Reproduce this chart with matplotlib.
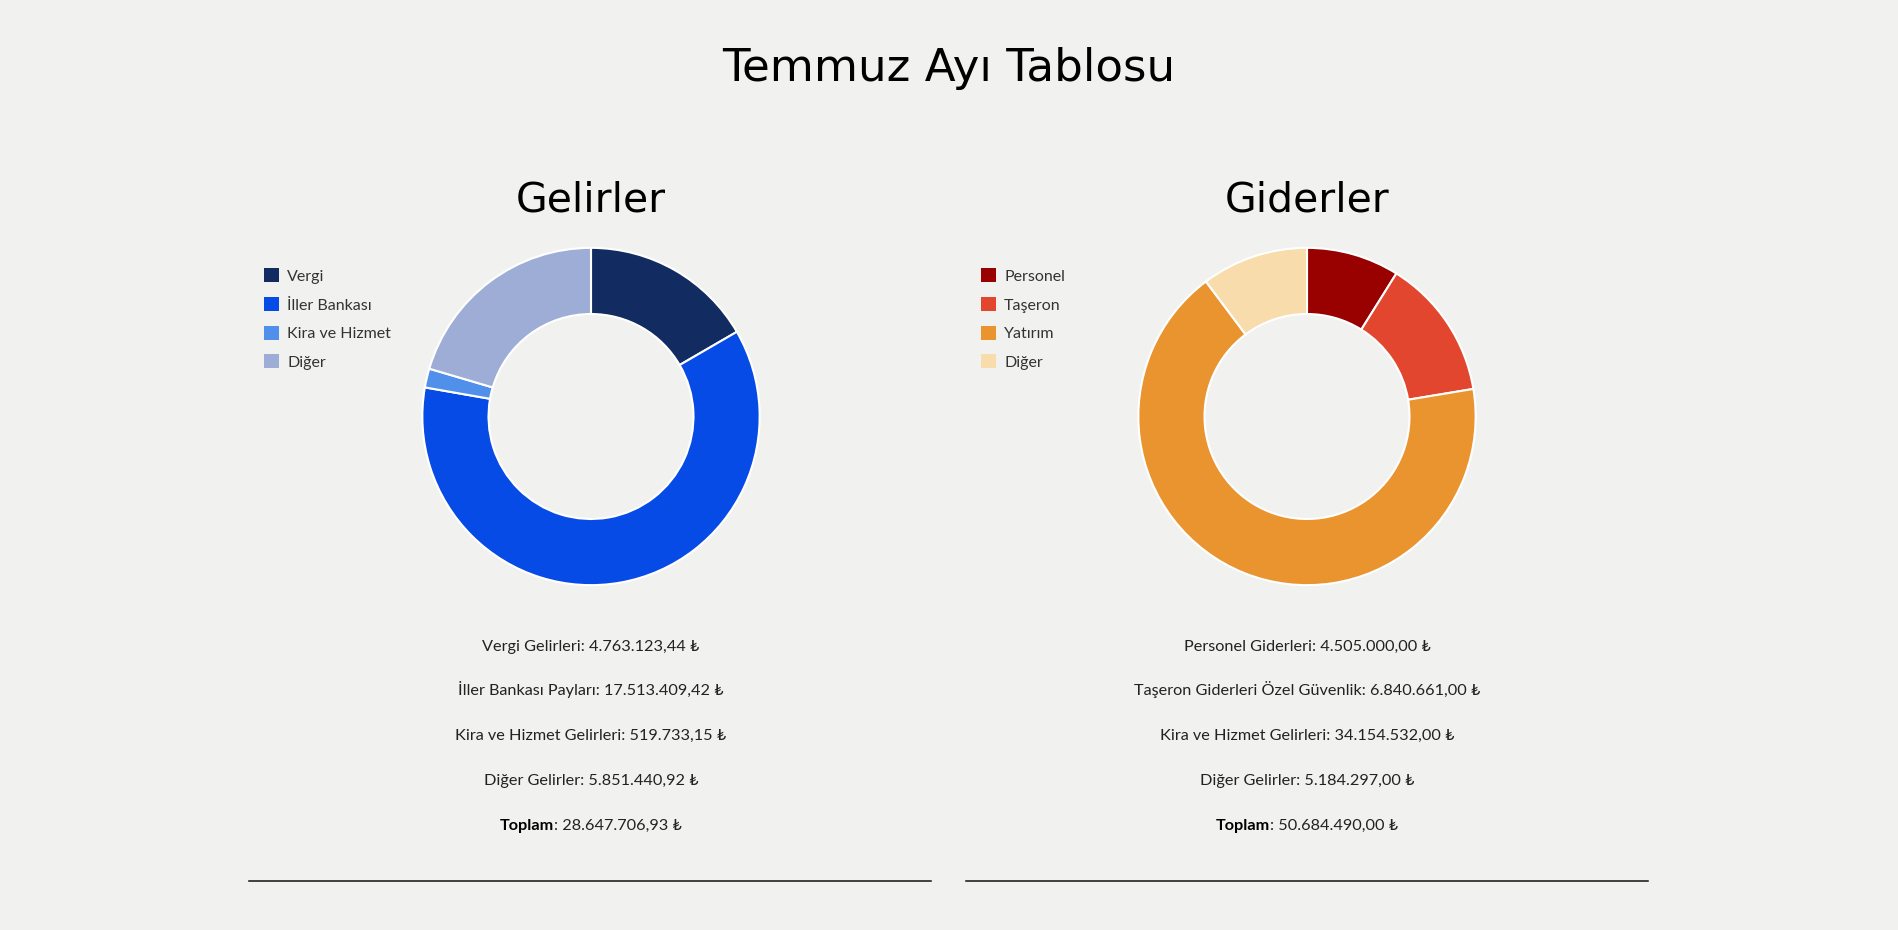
import matplotlib
matplotlib.use("Agg")
import matplotlib.pyplot as plt
from matplotlib.patches import Patch
from matplotlib.lines import Line2D

plt.rcParams['font.family'] = ['Lato', 'DejaVu Sans']

W, H = 1899, 930
BG = '#f1f1ef'

main_title = "Temmuz Ayı Tablosu"

gelir_title = "Gelirler"
gelir_labels = ["Vergi", "İller Bankası", "Kira ve Hizmet", "Diğer"]
gelir_values = [4763123.44, 17513409.42, 519733.15, 5851440.92]
gelir_colors = ["#122b61", "#074be6", "#5090eb", "#9dadd6"]
gelir_lines = ["Vergi Gelirleri: 4.763.123,44 ₺",
               "İller Bankası Payları: 17.513.409,42 ₺",
               "Kira ve Hizmet Gelirleri: 519.733,15 ₺",
               "Diğer Gelirler: 5.851.440,92 ₺"]
gelir_total = "28.647.706,93 ₺"

gider_title = "Giderler"
gider_labels = ["Personel", "Taşeron", "Yatırım", "Diğer"]
gider_values = [4505000.00, 6840661.00, 34154532.00, 5184297.00]
gider_colors = ["#990000", "#e2462e", "#ea9430", "#f8dcab"]
gider_lines = ["Personel Giderleri: 4.505.000,00 ₺",
               "Taşeron Giderleri Özel Güvenlik: 6.840.661,00 ₺",
               "Kira ve Hizmet Gelirleri: 34.154.532,00 ₺",
               "Diğer Gelirler: 5.184.297,00 ₺"]
gider_total = "50.684.490,00 ₺"

fig = plt.figure(figsize=(W / 100, H / 100), dpi=100, facecolor=BG)


def fx(px):
    return px / W


def fy(py):
    return 1 - py / H


fig.text(fx(949), fy(81.5), main_title, ha='center', va='baseline',
         fontsize=32.5, color='black', family=['DejaVu Sans'])

R = 169.5
r_in = 103
BODY = 11.7


def panel(cx, cy, title, labels, values, colors, lines, total, leg_x, line_x0, line_x1):
    ax = fig.add_axes([fx(cx - R), fy(cy + R), R * 2 / W, R * 2 / H])
    ax.set_facecolor(BG)
    ax.pie(values, colors=colors, startangle=90, counterclock=False, radius=1,
           wedgeprops=dict(width=1 - r_in / R, edgecolor='white', linewidth=1.5))
    ax.set_xlim(-1.005, 1.005)
    ax.set_ylim(-1.005, 1.005)
    ax.set_aspect('auto')
    ax.axis('off')

    fig.text(fx(cx), fy(211.5), title, ha='center', va='baseline',
             fontsize=29.5, color='black', family=['DejaVu Sans'])

    handles = [Patch(facecolor=c, edgecolor='none') for c in colors]
    fig.legend(handles, labels, loc='upper left',
               bbox_to_anchor=(fx(leg_x), fy(268.5)), frameon=False,
               fontsize=11.5, labelcolor='#333333', handlelength=0.95,
               handleheight=0.95, handletextpad=0.5, labelspacing=0.83,
               borderaxespad=0, borderpad=0)

    ys = [650.7, 695.5, 740.3, 785]
    for y, t in zip(ys, lines):
        fig.text(fx(cx), fy(y), t, ha='center', va='baseline',
                 fontsize=BODY, color='#222222')
    # total line: bold label + regular value
    ytot = 829.5
    t1 = fig.text(0, 0, "Toplam", ha='left', va='baseline',
                  fontsize=BODY, fontweight='bold', color='black')
    t2 = fig.text(0, 0, ": " + total, ha='left', va='baseline',
                  fontsize=BODY, color='#222222')
    rend = fig.canvas.get_renderer()
    w1 = t1.get_window_extent(renderer=rend).width
    w2 = t2.get_window_extent(renderer=rend).width
    left = cx - (w1 + w2) / 2
    t1.set_position((fx(left), fy(ytot)))
    t2.set_position((fx(left + w1), fy(ytot)))

    fig.add_artist(Line2D([fx(line_x0), fx(line_x1)], [fy(881), fy(881)],
                          color='#111111', linewidth=1.1))


panel(591, 416.5, gelir_title, gelir_labels, gelir_values, gelir_colors,
      gelir_lines, gelir_total, 264, 249, 931)
panel(1307, 416.5, gider_title, gider_labels, gider_values, gider_colors,
      gider_lines, gider_total, 981, 966, 1648)

fig.savefig("out.png", dpi=100, facecolor=BG)
